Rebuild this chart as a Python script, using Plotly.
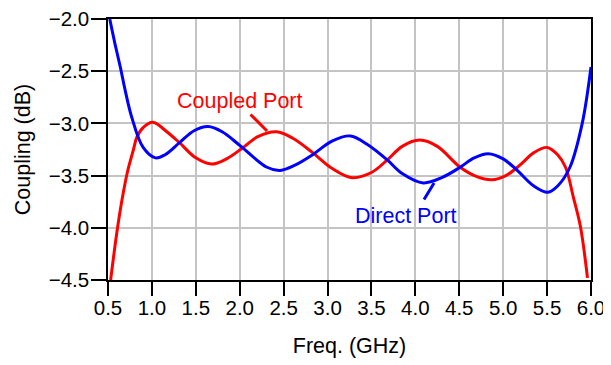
import plotly.graph_objects as go

# Coupled port (red)
coupled_f = [0.53, 0.60, 0.66, 0.72, 0.79, 0.83, 0.90, 1.01, 1.17, 1.32, 1.50, 1.68, 1.85, 2.04,
             2.20, 2.42, 2.60, 2.83, 3.05, 3.28, 3.50, 3.68, 3.85, 4.05, 4.25, 4.51, 4.70,
             4.87, 5.03, 5.19, 5.35, 5.50, 5.62, 5.71, 5.80, 5.88, 5.96]
coupled_db = [-4.50, -4.05, -3.73, -3.47, -3.25, -3.13, -3.04, -2.99, -3.08, -3.19, -3.33, -3.39,
              -3.34, -3.23, -3.13, -3.08, -3.14, -3.28, -3.43, -3.52, -3.47, -3.35, -3.22,
              -3.16, -3.22, -3.42, -3.51, -3.54, -3.50, -3.40, -3.28, -3.23, -3.30, -3.42,
              -3.71, -3.99, -4.48]

# Direct port (blue)
direct_f = [0.52, 0.58, 0.64, 0.70, 0.77, 0.90, 1.04, 1.15, 1.32, 1.48, 1.64, 1.80, 2.00, 2.31,
            2.46, 2.63, 2.83, 3.05, 3.26, 3.45, 3.68, 3.85, 4.09, 4.30, 4.51, 4.67, 4.83,
            5.00, 5.16, 5.35, 5.51, 5.62, 5.76, 5.90, 6.00]
direct_db = [-2.00, -2.24, -2.46, -2.70, -2.94, -3.23, -3.33, -3.30, -3.18, -3.07, -3.03, -3.08,
             -3.21, -3.42, -3.45, -3.40, -3.30, -3.17, -3.12, -3.20, -3.35, -3.48, -3.57,
             -3.52, -3.42, -3.33, -3.29, -3.34, -3.45, -3.60, -3.66, -3.60, -3.42, -3.00, -2.46]

x_ticks = [0.5, 1.0, 1.5, 2.0, 2.5, 3.0, 3.5, 4.0, 4.5, 5.0, 5.5, 6.0]
y_ticks = [-2.0, -2.5, -3.0, -3.5, -4.0, -4.5]

FONT = "Liberation Sans, Arial, sans-serif"

fig = go.Figure()
fig.add_trace(go.Scatter(x=coupled_f, y=coupled_db, mode="lines", name="Coupled Port",
                         line=dict(color="#ff0000", width=3, shape="spline", smoothing=1.0)))
fig.add_trace(go.Scatter(x=direct_f, y=direct_db, mode="lines", name="Direct Port",
                         line=dict(color="#0000ff", width=3, shape="spline", smoothing=1.0)))

fig.update_layout(
    width=611, height=365,
    margin=dict(l=100, r=28, t=11, b=93, autoexpand=False),
    paper_bgcolor="white", plot_bgcolor="white",
    showlegend=False,
    font=dict(family=FONT, size=20.5, color="black"),
)
fig.update_xaxes(
    range=[0.5, 6.0], tickvals=x_ticks, ticktext=[f"{v:.1f}" for v in x_ticks],
    ticks="outside", ticklen=14, tickwidth=1.5, tickcolor="black",
    showline=True, linecolor="black", linewidth=1.5, mirror=True,
    showgrid=True, gridcolor="#c4c4c4", gridwidth=1.5, zeroline=False,
    automargin=False, ticklabelstandoff=-5, ticklabeloverflow="allow",
    title=dict(text="Freq. (GHz)", font=dict(size=21.5), standoff=20),
)
fig.update_yaxes(
    range=[-4.5, -2.0], tickvals=y_ticks, ticktext=[f"{v:.1f}".replace("-", "\u2212") for v in y_ticks],
    ticks="outside", ticklen=15, tickwidth=1.5, tickcolor="black",
    showline=True, linecolor="black", linewidth=1.5, mirror=True,
    showgrid=True, gridcolor="#c4c4c4", gridwidth=1.5, zeroline=False,
    automargin=False, ticklabelstandoff=-2, ticklabeloverflow="allow",
    title=dict(text="Coupling (dB)", font=dict(size=21.5), standoff=12),
)

fig.add_annotation(x=2.0, y=-2.785, text="Coupled Port", showarrow=False,
                   font=dict(color="#ff0000", size=21.5, family=FONT))
fig.add_annotation(x=3.894, y=-3.887, text="Direct Port", showarrow=False,
                   font=dict(color="#0000ff", size=21.5, family=FONT))
fig.add_annotation(x=2.311, y=-3.073, ax=2.106, ay=-2.90, axref="x", ayref="y", text="",
                   showarrow=True, arrowhead=0, arrowwidth=3, arrowcolor="#ff0000")
fig.add_annotation(x=4.213, y=-3.571, ax=4.088, ay=-3.743, axref="x", ayref="y", text="",
                   showarrow=True, arrowhead=0, arrowwidth=3, arrowcolor="#0000ff")

fig.write_html("out.html")
